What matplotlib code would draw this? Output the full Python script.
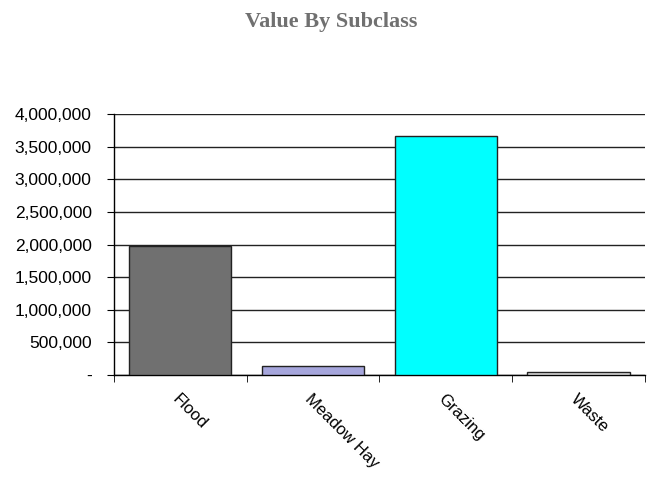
import numpy as np
import matplotlib.pyplot as plt
from matplotlib.ticker import FuncFormatter, FixedLocator

categories = ["Flood", "Meadow Hay", "Grazing", "Waste"]
values = [1980000, 140000, 3660000, 45000]
colors = ["#707070", "#a6a6dc", "#00ffff", "#d9d9d9"]
yticks = [0, 500000, 1000000, 1500000, 2000000, 2500000, 3000000, 3500000, 4000000]

fig = plt.figure(figsize=(6.62, 4.8), dpi=100)
ax = fig.add_axes([0.172, 0.219, 0.802, 0.543])

x = np.arange(len(categories))
ax.set_axisbelow(True)
ax.bar(x, values, width=0.77, color=colors, edgecolor="#222222", linewidth=1, zorder=3)

ax.set_xlim(-0.5, len(categories) - 0.5)
ax.set_ylim(0, 4000000)
ax.set_yticks(yticks)
ax.yaxis.set_major_formatter(FuncFormatter(lambda v, p: "-" if v == 0 else f"{int(v):,}"))
ax.grid(axis="y", color="#222222", linewidth=1)

ax.set_xticks(x)
ax.set_xticklabels(categories, rotation=-45, ha="left", rotation_mode="anchor",
                   fontsize=12, family="Liberation Sans")
ax.xaxis.set_minor_locator(FixedLocator(np.arange(-0.5, len(categories), 1.0)))
ax.tick_params(axis="x", which="major", length=0, pad=12)
ax.tick_params(axis="x", which="minor", length=5, direction="out", color="black")
ax.tick_params(axis="y", length=5, direction="out", color="black", pad=11)
for lab in ax.get_yticklabels():
    lab.set_fontsize(12.5)
    lab.set_family("Liberation Sans")

for side in ["top", "right"]:
    ax.spines[side].set_visible(False)
for side in ["left", "bottom"]:
    ax.spines[side].set_color("black")
    ax.spines[side].set_linewidth(1)

fig.text(0.5, 0.955, "Value By Subclass", ha="center", va="center",
         fontsize=16, fontweight="bold", family="Liberation Serif", color="#707070")

fig.savefig("out.png", dpi=100)
